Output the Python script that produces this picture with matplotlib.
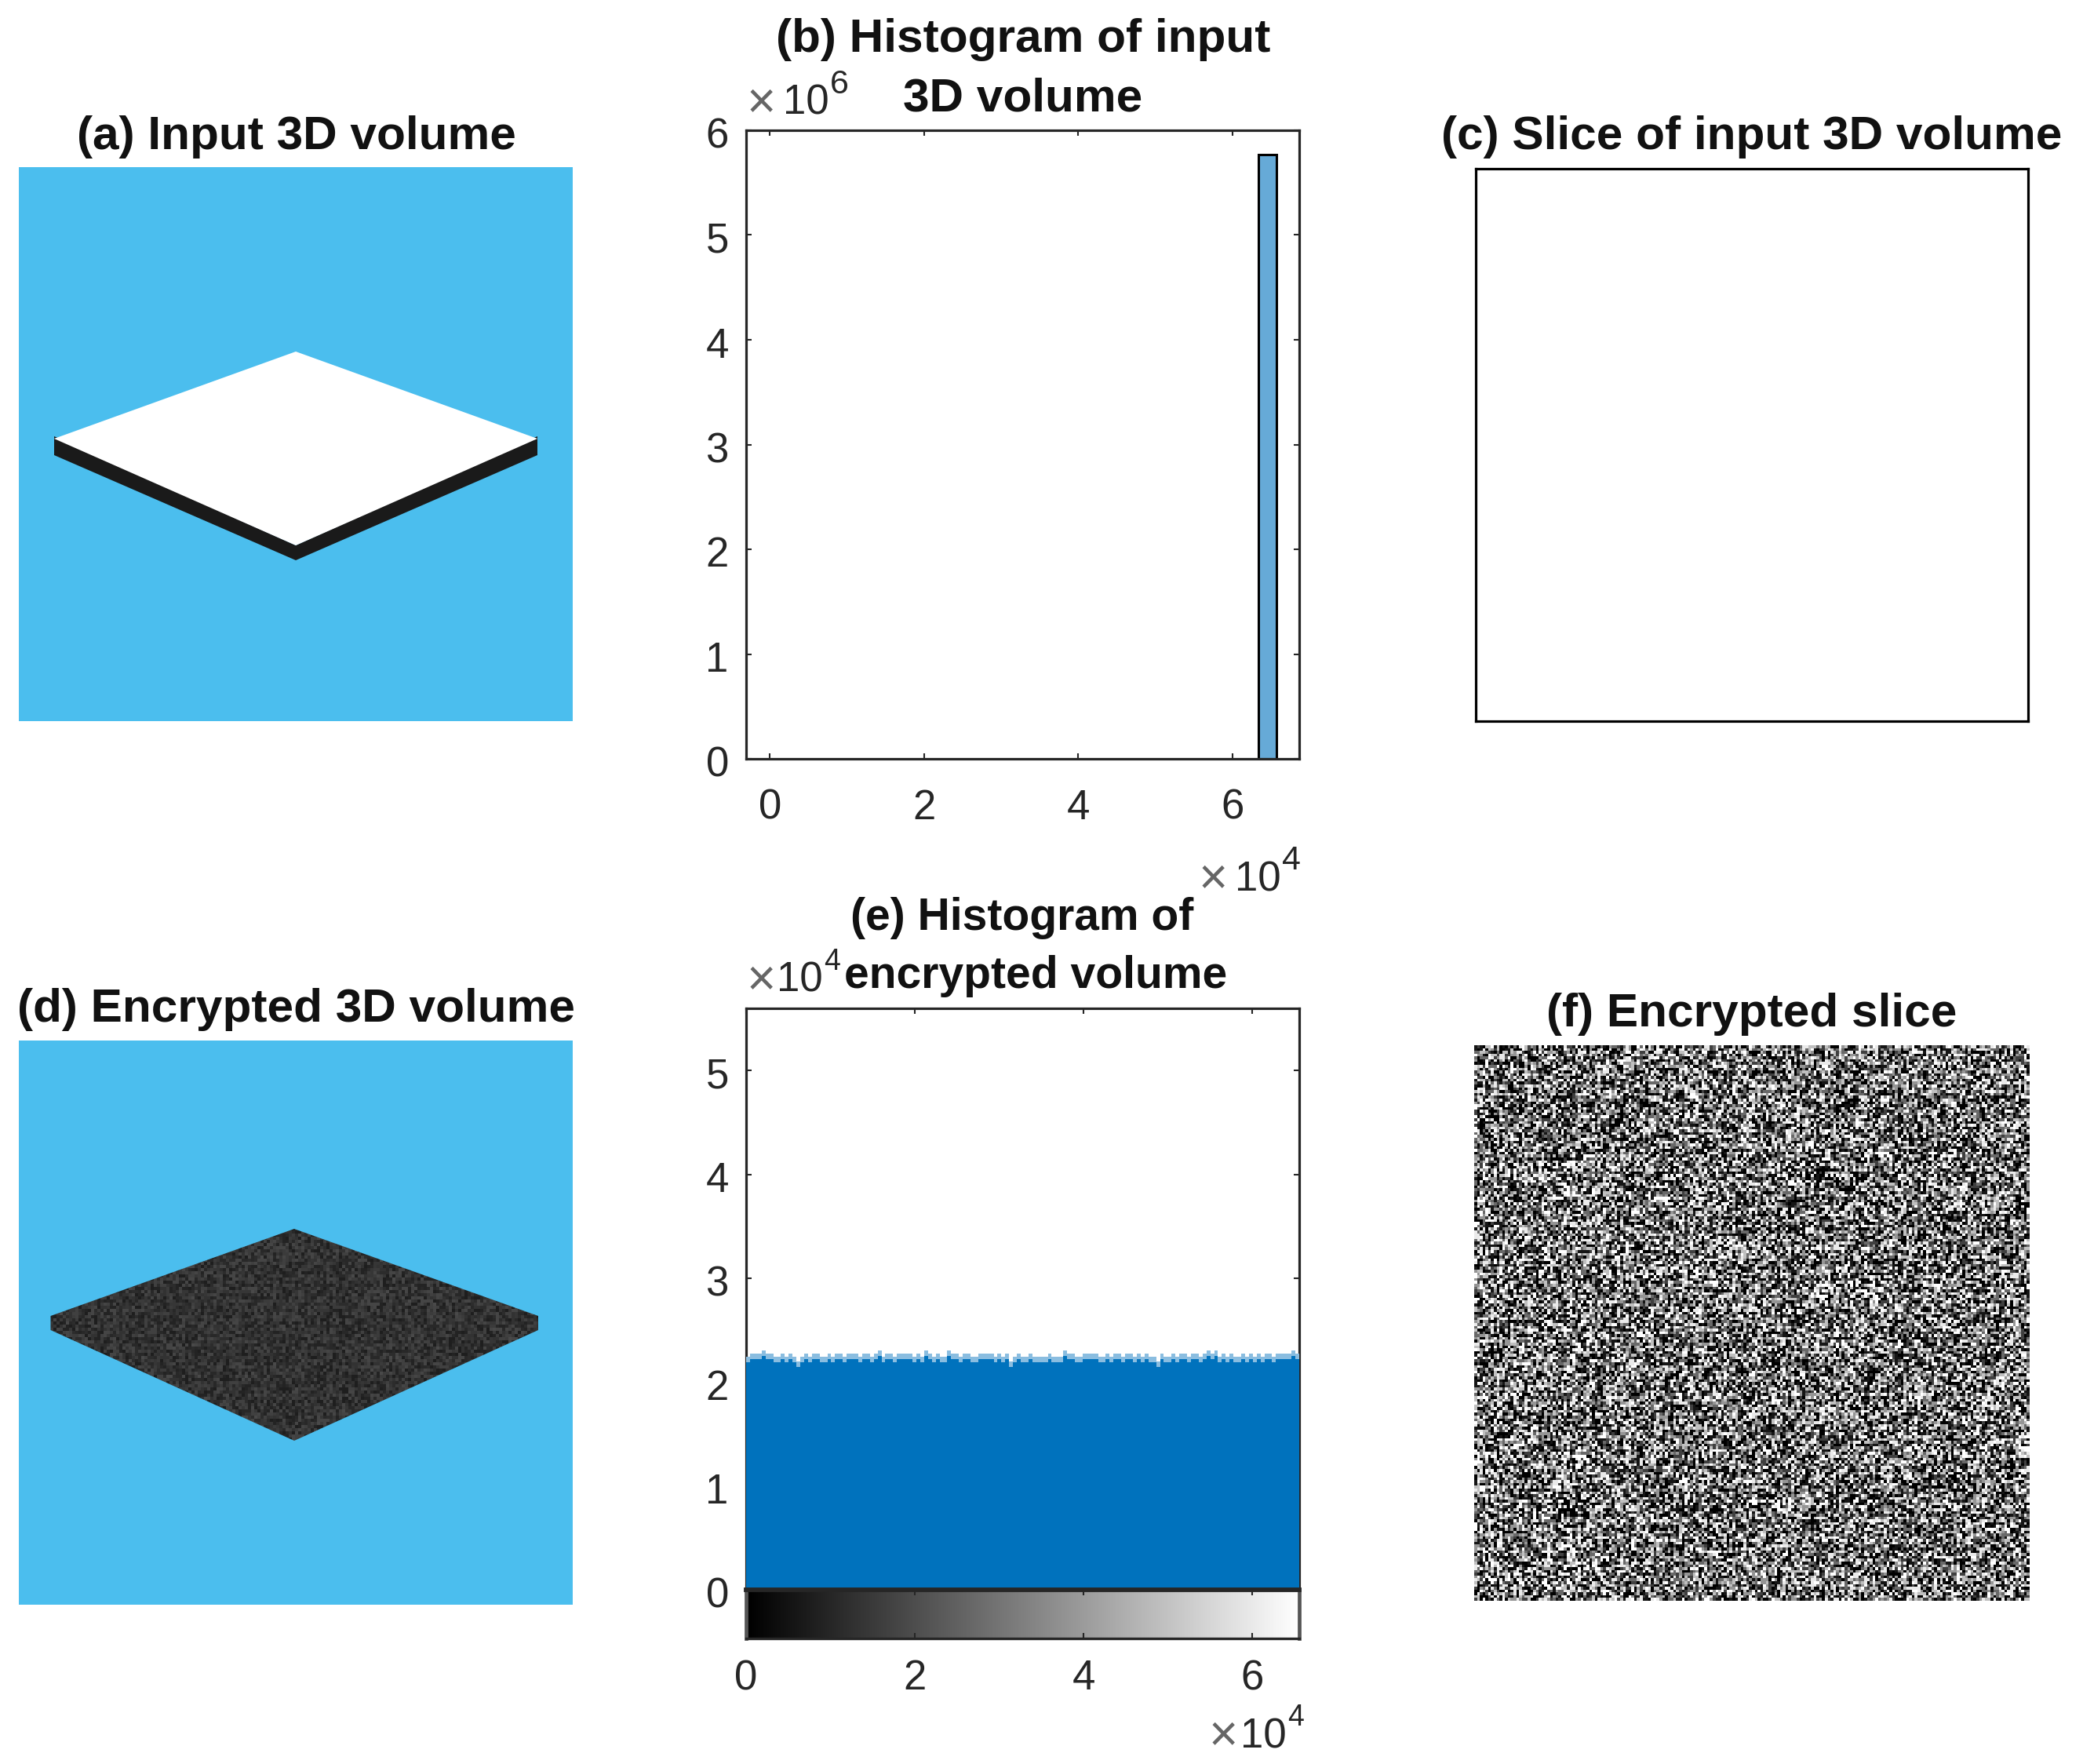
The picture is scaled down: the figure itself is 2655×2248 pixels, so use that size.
import numpy as np
import matplotlib
matplotlib.use("Agg")
import matplotlib.pyplot as plt
from matplotlib.patches import Polygon
from matplotlib.transforms import ScaledTranslation

plt.rcParams['font.family'] = ['Liberation Sans', 'DejaVu Sans']

W, H = 2655, 2248
DARK = '#262626'
SKY = '#4BBEEE'
BAR_EDGE = '#000000'
BAR_FACE = '#66AAD7'
HIST_SOLID = '#0072BD'
HIST_LIGHT = '#8ABDE0'

# ---- data ----
titles_single = ['(a) Input 3D volume', '(c) Slice of input 3D volume',
                 '(d) Encrypted 3D volume', '(f) Encrypted slice']
title_b = ['(b) Histogram of input', '3D volume']
title_e = ['(e) Histogram of', 'encrypted volume']

hist_b_edges = [6.34e4, 6.57e4]
hist_b_counts = [5.77e6]
b_xticks = [0, 2e4, 4e4, 6e4]
b_yticks = [0, 1e6, 2e6, 3e6, 4e6, 5e6, 6e6]
b_xlim = [-0.31e4, 6.87e4]
b_ylim = [0, 6e6]

e_xticks = [0, 2e4, 4e4, 6e4]
e_yticks = [0, 1e4, 2e4, 3e4, 4e4, 5e4]
e_xlim = [0, 65535]
e_ylim = [0, 5.6e4]
e_counts = [
    22460, 22760, 22760, 22760, 23060, 22760, 22760, 22460, 22460, 22760, 22460, 22760,
    22460, 22000, 22460, 22760, 22460, 22760, 22760, 22460, 22460, 22760, 22460, 22760,
    22760, 22460, 22760, 22760, 22760, 22460, 22760, 22760, 22460, 22760, 23060, 22460,
    22760, 22760, 22460, 22760, 22760, 22760, 22760, 22460, 22760, 22460, 23060, 22760,
    22460, 22760, 22460, 22460, 23060, 22760, 22760, 22460, 22760, 22760, 22460, 22460,
    22760, 22760, 22760, 22760, 22460, 22760, 22460, 22760, 22000, 22460, 22760, 22460,
    22460, 22760, 22460, 22460, 22460, 22460, 22760, 22460, 22460, 22460, 23060, 22760,
    22760, 22460, 22460, 22760, 22760, 22760, 22760, 22460, 22460, 22760, 22460, 22760,
    22760, 22460, 22760, 22760, 22460, 22760, 22460, 22760, 22460, 22460, 22000, 22760,
    22460, 22460, 22760, 22460, 22760, 22760, 22460, 22760, 22760, 22460, 22760, 23060,
    22760, 23060, 22460, 22760, 22460, 22760, 22460, 22460, 22760, 22460, 22760, 22460,
    22760, 22460, 22760, 22760, 22460, 22760, 22760, 22760, 22760, 23060, 22760,
]

# hand-typed grey patch (0 dark .. 9 light), an approximation of the noise texture
noise_rows = [
    "640739162847315926", "273958041693728150", "816204759382641973",
    "395871426059173684", "048162937514860297", "729340685271934518",
    "561893274106582743", "184720596348217069", "937561048729463125",
    "402896713560829374", "658134290875316402", "291705864132947586",
    "743968125490671238", "120483679257308941", "876259341068154790",
    "354017892736495162", "069742513984720835", "518326940671283457",
]
mosaic_codes = [
    "05273164027", "31640725163", "72516304715", "16037425061",
    "40725136472", "63104752306", "27561340215", "50432716743",
    "14760253107", "36215047624", "72043615350",
]

# shapes of the two volume views, in figure pixels
slab_top = [(377, 448), (685, 559), (377, 695), (69, 559)]
slab_side = [(69, 556), (69, 580), (377, 714), (685, 580), (685, 556), (377, 695)]
enc_outline = [(375, 1566), (686, 1677), (686, 1695), (375, 1836), (64.5, 1695), (64.5, 1677)]


def box(l, t, r, b):
    return fig.add_axes([l / W, 1 - b / H, (r - l) / W, (b - t) / H])


def ftext(x, y, s, **kw):
    kw.setdefault('ha', 'center')
    kw.setdefault('va', 'center')
    return fig.text(x / W, 1 - y / H, s, **kw)


def style(ax, xticks, yticks):
    ax.set_xticks(xticks)
    ax.set_yticks(yticks)
    ax.set_xticklabels([f'{v / 1e4:g}' for v in xticks])
    ax.tick_params(direction='in', top=True, right=True, length=5, width=1.5,
                   colors=DARK, labelsize=TICK_FS)
    ax.tick_params(axis='x', pad=27)
    ax.tick_params(axis='y', pad=16)
    for s in ax.spines.values():
        s.set_linewidth(2.3)
        s.set_color(DARK)


def nudge_ylabels(ax):
    shift = ScaledTranslation(0, -3 / 100, fig.dpi_scale_trans)
    for lab in ax.get_yticklabels():
        lab.set_transform(lab.get_transform() + shift)


def offset(x, y, exp, gap=46, exp_fs=31):
    """MATLAB-style x10^n label; x is the left edge, y the centre of the '10'."""
    ftext(x, y + 1, '×', fontsize=46, color='#666666', ha='left', fontweight='light')
    ftext(x + gap, y, '10', fontsize=TICK_FS, color=DARK, ha='left')
    ftext(x + gap + 60, y - 24, str(exp), fontsize=exp_fs, color=DARK, ha='left')


def make_noise():
    patch = np.array([[int(c) for c in r] for r in noise_rows], dtype=float) / 9.0
    out = []
    for row in mosaic_codes:
        blocks = []
        for c in row:
            k = int(c)
            b = np.rot90(patch, k % 4)
            if k >= 4:
                b = b[:, ::-1]
            blocks.append(b)
        out.append(np.hstack(blocks))
    a = np.vstack(out)
    # overlay a shifted transposed copy so the patch's repeats do not show as swirls
    b = np.roll(a.T[::-1], (7, 11), axis=(0, 1))
    c = np.roll(a[:, ::-1], (5, 13), axis=(0, 1))
    return (a + b + c) % 1.0


TICK_FS = 38
TITLE_FS = 43.5
fig = plt.figure(figsize=(W / 100, H / 100), dpi=100, facecolor='white')
noise = make_noise()

# (a)
ax_a = box(24, 213, 730, 919)
ax_a.set_axis_off()
fig.patches.append(plt.Rectangle((24 / W, 1 - 919 / H), 706 / W, 706 / H, transform=fig.transFigure,
                                 facecolor=SKY, edgecolor='none', zorder=1))
fig.patches.append(Polygon([(x / W, 1 - y / H) for x, y in slab_side], closed=True,
                           transform=fig.transFigure, facecolor='#1A1A1A', edgecolor='none', zorder=2))
fig.patches.append(Polygon([(x / W, 1 - y / H) for x, y in slab_top], closed=True,
                           transform=fig.transFigure, facecolor='white', edgecolor='none', zorder=3))

# (b)
ax_b = box(951, 166, 1656, 967)
ax_b.bar(hist_b_edges[0], hist_b_counts[0], width=hist_b_edges[1] - hist_b_edges[0], align='edge',
         facecolor=BAR_FACE, edgecolor=BAR_EDGE, linewidth=2.2)
ax_b.set_xlim(b_xlim)
ax_b.set_ylim(b_ylim)
style(ax_b, b_xticks, b_yticks)
ax_b.set_yticklabels([f'{v / 1e6:g}' for v in b_yticks])
nudge_ylabels(ax_b)
offset(952, 132, 6)
offset(1528, 1121, 4)

# (c)
ax_c = box(1881, 215, 2585, 919)
ax_c.set_xticks([])
ax_c.set_yticks([])
for s in ax_c.spines.values():
    s.set_linewidth(2.3)
    s.set_color('black')

# (d)
ax_d = box(24, 1326, 730, 2045)
ax_d.set_facecolor(SKY)
ax_d.set_xticks([])
ax_d.set_yticks([])
for s in ax_d.spines.values():
    s.set_visible(False)
im = ax_d.imshow(0.12 + 0.17 * noise, cmap='gray', vmin=0, vmax=1, interpolation='nearest',
                 extent=(-20, 772, 2096, 1304), aspect='auto')
clip = Polygon(enc_outline, closed=True, transform=ax_d.transData, facecolor='none', edgecolor='none')
ax_d.add_patch(clip)
im.set_clip_path(clip)
ax_d.set_xlim(24, 730)
ax_d.set_ylim(2045, 1326)

# (e)
ax_e = box(951, 1285, 1656, 2026)
edges = np.linspace(e_xlim[0], e_xlim[1], len(e_counts) + 1)
counts = np.array(e_counts, dtype=float)
ax_e.stairs(counts, edges, fill=True, facecolor=HIST_LIGHT, edgecolor='none', zorder=3, clip_on=False)
ax_e.stairs(counts - 530, edges, fill=True, facecolor=HIST_SOLID, edgecolor='none', zorder=3.1, clip_on=False)
ax_e.set_xlim(e_xlim)
ax_e.set_ylim(e_ylim)
style(ax_e, e_xticks, e_yticks)
ax_e.set_xticklabels([])
ax_e.set_yticklabels([f'{v / 1e4:g}' for v in e_yticks])
nudge_ylabels(ax_e)
offset(952, 1250, 4, gap=38, exp_fs=27)

ax_cb = box(951, 2026, 1656, 2088)
ax_cb.imshow(np.linspace(0, 1, 256)[None, :], cmap='gray', aspect='auto',
             extent=(e_xlim[0], e_xlim[1], 0, 1), interpolation='bilinear')
ax_cb.set_xlim(e_xlim)
ax_cb.set_ylim(0, 1)
ax_cb.set_yticks([])
ax_cb.set_xticks(e_xticks)
ax_cb.set_xticklabels([f'{v / 1e4:g}' for v in e_xticks])
ax_cb.tick_params(direction='in', top=True, length=5, width=1.5, colors=DARK, labelsize=TICK_FS, pad=19)
ax_cb.spines['top'].set_linewidth(4.2)
ax_cb.spines['top'].set_color(DARK)
ax_cb.spines['bottom'].set_linewidth(2.4)
ax_cb.spines['bottom'].set_color(DARK)
for side in ('left', 'right'):
    ax_cb.spines[side].set_linewidth(3.4)
    ax_cb.spines[side].set_color('#555555')
offset(1541, 2213, 4, gap=40, exp_fs=27)

# (f)
ax_f = box(1879, 1332, 2587, 2040)
ax_f.imshow(np.clip((noise - 0.5) * 1.5 + 0.5, 0, 1), cmap='gray', vmin=0, vmax=1,
            interpolation='nearest', aspect='auto')
ax_f.set_axis_off()

# titles
tkw = dict(fontsize=TITLE_FS, fontweight='bold', color='#111111')
tkw_e = dict(tkw, fontsize=41)
ftext(378, 175, titles_single[0], **tkw)
ftext(1304, 50, title_b[0], **tkw)
ftext(1304, 126, title_b[1], **tkw)
ftext(2233, 175, titles_single[1], **tkw)
ftext(378, 1286, titles_single[2], **tkw)
ftext(1303, 1170, title_e[0], **tkw_e)
ftext(1320, 1244, title_e[1], **tkw_e)
ftext(2233, 1292, titles_single[3], **tkw)

fig.savefig('out.png', dpi=100)
